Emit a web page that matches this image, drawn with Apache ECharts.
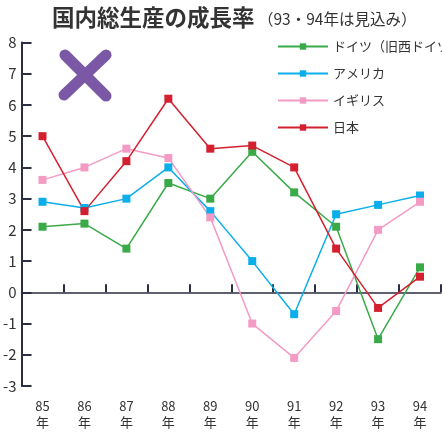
<!DOCTYPE html>
<html>
<head>
<meta charset="utf-8">
<script src="https://cdn.jsdelivr.net/npm/echarts@6/dist/echarts.min.js"></script>
<style>
html,body{margin:0;padding:0;background:#fff;}
#chart{width:442px;height:433px;}
</style>
</head>
<body>
<div id="chart"></div>
<script>
// 年次（93・94年は見込み）
const years = ['85', '86', '87', '88', '89', '90', '91', '92', '93', '94'];
const yTicks = { min: -3, max: 8, step: 1 };

// 実質GDP成長率（%）
const germany = [2.1, 2.2, 1.4, 3.5, 3.0, 4.5, 3.2, 2.1, -1.5, 0.8];
const usa     = [2.9, 2.7, 3.0, 4.0, 2.6, 1.0, -0.7, 2.5, 2.8, 3.1];
const uk      = [3.6, 4.0, 4.6, 4.3, 2.4, -1.0, -2.1, -0.6, 2.0, 2.9];
const japan   = [5.0, 2.6, 4.2, 6.2, 4.6, 4.7, 4.0, 1.4, -0.5, 0.5];

const seriesNames = ['ドイツ（旧西ドイツ）', 'アメリカ', 'イギリス', '日本'];
const seriesData = [germany, usa, uk, japan];
const colors = ['#3aaa48', '#0aaeea', '#f39bc4', '#d4202e'];

const FONT = '"Noto Sans CJK JP", "Noto Sans", sans-serif';
const axisColor = '#2b2d42';

const chart = echarts.init(document.getElementById('chart'), null, { renderer: 'canvas' });

chart.setOption({
  animation: false,
  backgroundColor: '#fff',
  textStyle: { fontFamily: FONT },
  title: {
    left: 47,
    top: 1,
    text: '{a|国内総生産の成長率}{b| （93・94年は見込み）}',
    textStyle: {
      rich: {
        a: { fontSize: 22.5, fontWeight: 'bold', color: '#333', fontFamily: FONT },
        b: { fontSize: 15.5, fontWeight: 'normal', color: '#333', fontFamily: FONT, padding: [4, 0, 0, 0] }
      }
    }
  },
  legend: {
    orient: 'vertical',
    left: 272,
    top: 35,
    itemWidth: 50,
    itemHeight: 8,
    itemGap: 14,
    textStyle: { fontSize: 13, color: '#333', fontFamily: FONT },
    data: seriesNames
  },
  grid: { left: 21, right: 1, top: 42.5, bottom: 47, containLabel: false },
  xAxis: [
    {
      type: 'category',
      data: years,
      boundaryGap: true,
      axisLine: { onZero: true, lineStyle: { color: axisColor, width: 1.5 } },
      axisTick: { show: true, inside: true, length: 8, lineStyle: { color: axisColor, width: 2 } },
      axisLabel: { show: false },
      splitLine: { show: false }
    },
    {
      type: 'category',
      data: years,
      position: 'bottom',
      boundaryGap: true,
      axisLine: { show: false, onZero: false },
      axisTick: { show: false },
      axisLabel: {
        margin: 12,
        fontSize: 13,
        color: '#333',
        lineHeight: 16,
        fontFamily: FONT,
        formatter: v => v + '\n年'
      }
    }
  ],
  yAxis: {
    type: 'value',
    min: yTicks.min,
    max: yTicks.max,
    interval: yTicks.step,
    axisLine: { show: true, lineStyle: { color: axisColor, width: 2 } },
    axisTick: { show: true, inside: true, length: 10, lineStyle: { color: axisColor, width: 2 } },
    axisLabel: { fontSize: 15, color: '#333', margin: 5, fontFamily: FONT },
    splitLine: { show: false }
  },
  series: seriesData.map((d, i) => ({
    name: seriesNames[i],
    type: 'line',
    data: d,
    xAxisIndex: 0,
    symbol: 'rect',
    symbolSize: 8,
    color: colors[i],
    lineStyle: { width: 1.5, color: colors[i] },
    itemStyle: { color: colors[i] }
  })),
  graphic: [
    {
      type: 'line',
      shape: { x1: 65, y1: 55, x2: 106, y2: 96 },
      style: { stroke: '#7a58a6', lineWidth: 11, lineCap: 'round' }
    },
    {
      type: 'line',
      shape: { x1: 106, y1: 55, x2: 64, y2: 95 },
      style: { stroke: '#7a58a6', lineWidth: 11, lineCap: 'round' }
    }
  ]
});
</script>
</body>
</html>
